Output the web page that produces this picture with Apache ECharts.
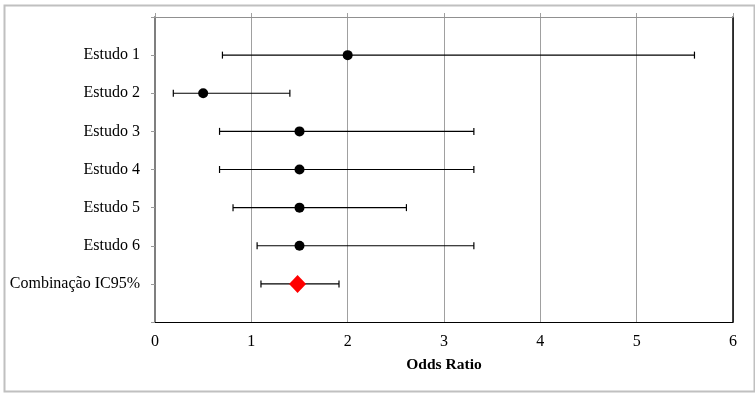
<!DOCTYPE html>
<html>
<head>
<meta charset="utf-8">
<script src="https://cdn.jsdelivr.net/npm/echarts@6/dist/echarts.min.js"></script>
<style>html,body{margin:0;padding:0;background:#fff}#c{width:755px;height:395px}</style>
</head>
<body>
<div id="c"></div>
<script>
var categories = ['Estudo 1','Estudo 2','Estudo 3','Estudo 4','Estudo 5','Estudo 6','Combinação IC95%'];
var pointEstimate = [2.0, 0.5, 1.5, 1.5, 1.5, 1.5, 1.48];
var lowerCI = [0.70, 0.19, 0.67, 0.67, 0.81, 1.06, 1.10];
var upperCI = [5.60, 1.40, 3.31, 3.31, 2.61, 3.31, 1.91];
var xTicks = [0,1,2,3,4,5,6];

var FONT = 'Liberation Serif';
var n = categories.length;
var studyPts = [], combPts = [], bars = [];
for (var i = 0; i < n; i++) {
  bars.push([lowerCI[i], upperCI[i], i + 1]);
  if (i < n - 1) studyPts.push([pointEstimate[i], i + 1]);
  else combPts.push([pointEstimate[i], i + 1]);
}

var chart = echarts.init(document.getElementById('c'));
chart.setOption({
  animation: false,
  backgroundColor: '#fff',
  graphic: [{
    type: 'rect', left: 2, top: 3,
    shape: {width: 750, height: 386},
    style: {fill: 'none', stroke: '#c0c0c0', lineWidth: 2}
  }],
  grid: {left: 155, top: 17, right: 22, bottom: 73, containLabel: false},
  xAxis: [{
    type: 'value', position: 'bottom',
    min: xTicks[0], max: xTicks[xTicks.length-1], interval: 1,
    axisLine: {show: true, onZero: false, lineStyle: {color: '#000', width: 1}},
    axisTick: {show: false},
    axisLabel: {fontFamily: FONT, fontSize: 16, color: '#000', margin: 12},
    splitLine: {show: true, lineStyle: {color: '#a0a0a0', width: 1}},
    name: 'Odds Ratio', nameLocation: 'middle', nameGap: 35,
    nameTextStyle: {fontFamily: FONT, fontSize: 15.5, fontWeight: 'bold', color: '#000'}
  }, {
    type: 'value', position: 'top',
    min: 0, max: 6, interval: 1,
    axisLine: {show: true, onZero: false, lineStyle: {color: '#909090', width: 1}},
    axisTick: {show: true, inside: false, length: 4, lineStyle: {color: '#a0a0a0'}},
    axisLabel: {show: false},
    splitLine: {show: false}
  }],
  yAxis: [{
    type: 'value', position: 'left', inverse: true,
    min: 0, max: 8, interval: 1,
    axisLine: {show: true, onZero: false, lineStyle: {color: '#7f7f7f', width: 2}},
    axisTick: {show: true, inside: false, length: 4, lineStyle: {color: '#9a9a9a', width: 1}},
    axisLabel: {
      fontFamily: FONT, fontSize: 16, color: '#000', margin: 15, padding: [2, 0, 0, 0],
      formatter: function (v) { return (v >= 1 && v <= n) ? categories[v - 1] : ''; }
    },
    splitLine: {show: false}
  }, {
    type: 'value', position: 'right', inverse: true,
    min: 0, max: 8, interval: 1,
    axisLine: {show: true, onZero: false, lineStyle: {color: '#000', width: 1.5}},
    axisTick: {show: false}, axisLabel: {show: false}, splitLine: {show: false}
  }],
  series: [{
    type: 'custom',
    data: bars,
    encode: {x: [0, 1], y: 2},
    renderItem: function (params, api) {
      var lo = api.coord([api.value(0), api.value(2)]);
      var hi = api.coord([api.value(1), api.value(2)]);
      var h = 3.5;
      var st = {stroke: '#000', lineWidth: 1.2};
      return {
        type: 'group',
        children: [
          {type: 'line', shape: {x1: lo[0], y1: lo[1], x2: hi[0], y2: hi[1]}, style: st},
          {type: 'line', shape: {x1: lo[0], y1: lo[1]-h, x2: lo[0], y2: lo[1]+h}, style: st},
          {type: 'line', shape: {x1: hi[0], y1: hi[1]-h, x2: hi[0], y2: hi[1]+h}, style: st}
        ]
      };
    },
    z: 2
  }, {
    type: 'scatter',
    data: studyPts,
    symbol: 'circle', symbolSize: 10,
    itemStyle: {color: '#000', opacity: 1},
    z: 3
  }, {
    type: 'scatter',
    data: combPts,
    symbol: 'diamond', symbolSize: [17, 18],
    itemStyle: {color: '#ff0000', opacity: 1},
    z: 3
  }]
});
</script>
</body>
</html>
